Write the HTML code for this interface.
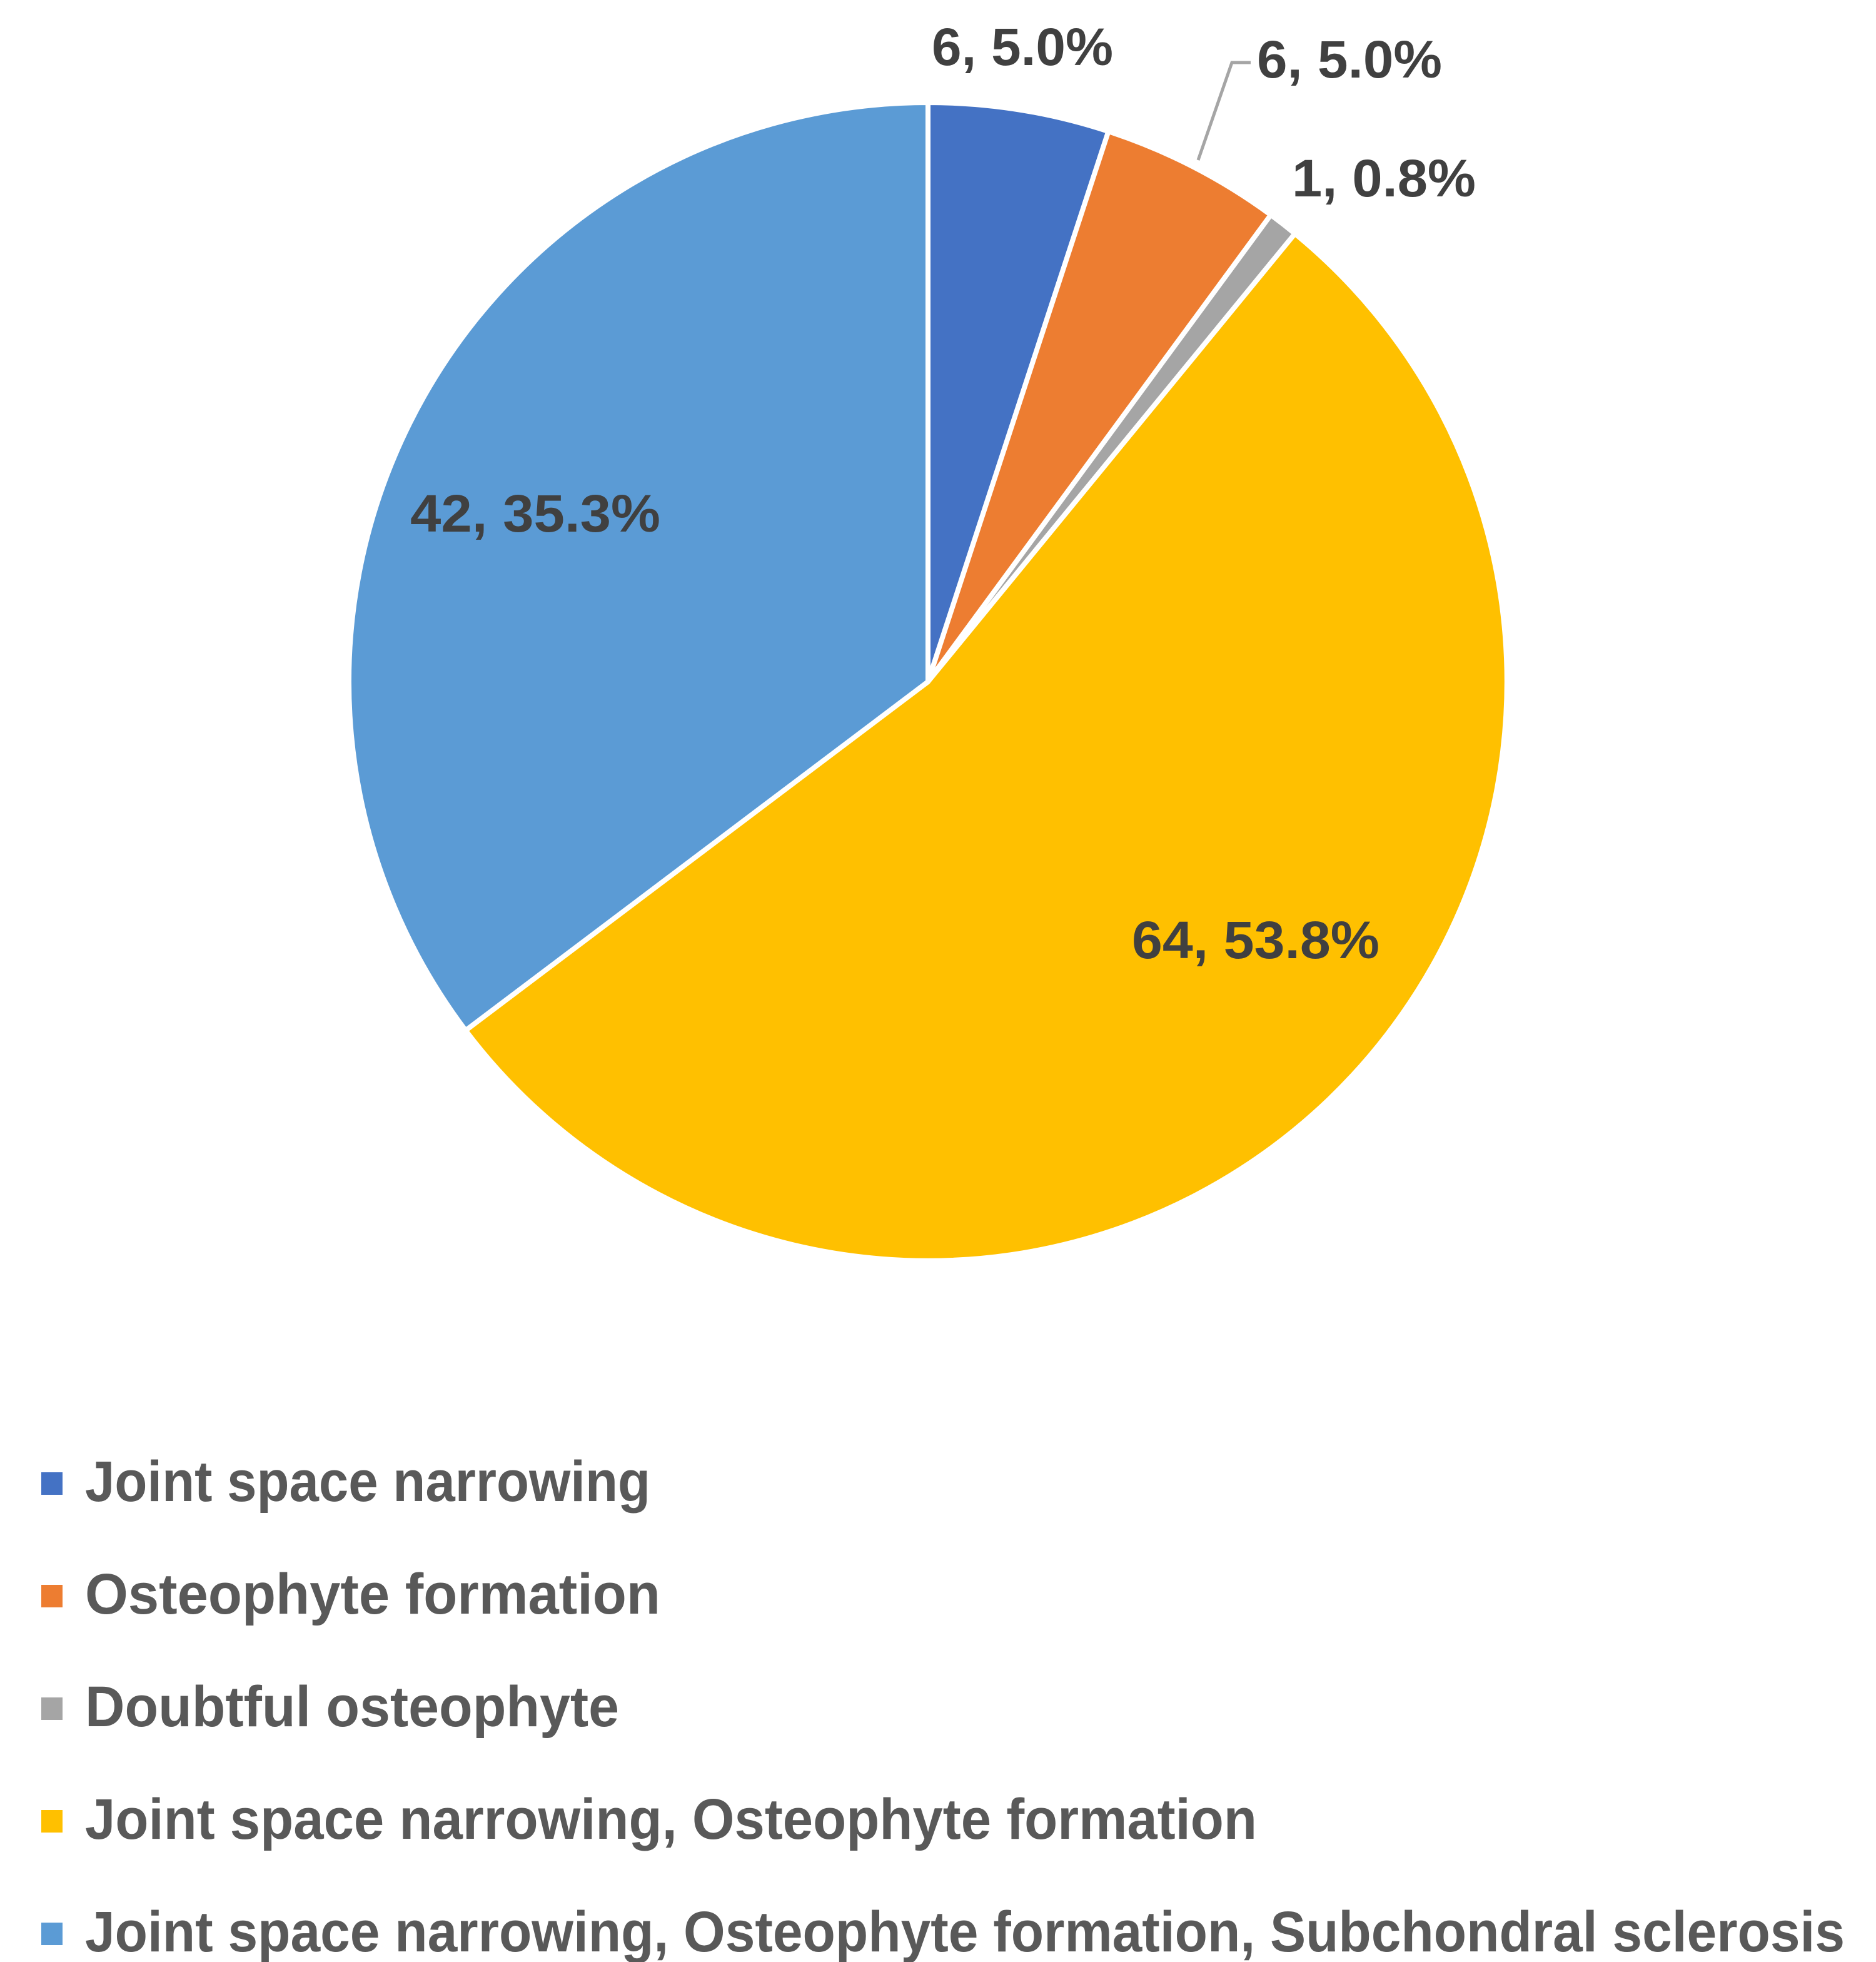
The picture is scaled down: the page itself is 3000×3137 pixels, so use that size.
<!DOCTYPE html>
<html><head><meta charset="utf-8"><style>
html,body{margin:0;padding:0;background:#fff;}
svg{display:block;}
.l{font-family:"Liberation Sans",sans-serif;font-weight:bold;font-size:84px;fill:#404040;}
.g{font-family:"Liberation Sans",sans-serif;font-weight:bold;font-size:92px;fill:#595959;}
</style></head><body>
<svg width="3000" height="3137" viewBox="0 0 3000 3137" xmlns="http://www.w3.org/2000/svg">
<g stroke="#fff" stroke-width="8" stroke-linejoin="round">
<path d="M1484,1090 L1484,164 A926,926 0 0 1 1772.5,210.1 Z" fill="#4472C4"/>
<path d="M1484,1090 L1772.5,210.1 A926,926 0 0 1 2032.2,343.6 Z" fill="#ED7D31"/>
<path d="M1484,1090 L2032.2,343.6 A926,926 0 0 1 2070.8,373.6 Z" fill="#A5A5A5"/>
<path d="M1484,1090 L2070.8,373.6 A926,926 0 1 1 744.6,1647.5 Z" fill="#FFC000"/>
<path d="M1484,1090 L744.6,1647.5 A926,926 0 0 1 1484,164 Z" fill="#5B9BD5"/>
</g>
<polyline points="2000,100 1970,100 1916,256" fill="none" stroke="#A5A5A5" stroke-width="5"/>
<text class="l" x="1490" y="104" textLength="290" lengthAdjust="spacingAndGlyphs">6, 5.0%</text>
<text class="l" x="2010" y="124" textLength="296" lengthAdjust="spacingAndGlyphs">6, 5.0%</text>
<text class="l" x="2066" y="314" textLength="294" lengthAdjust="spacingAndGlyphs">1, 0.8%</text>
<text class="l" x="656" y="850" textLength="400" lengthAdjust="spacingAndGlyphs">42, 35.3%</text>
<text class="l" x="1810" y="1532" textLength="396" lengthAdjust="spacingAndGlyphs">64, 53.8%</text>
<rect x="66" y="2354" width="34" height="36" fill="#4472C4"/>
<rect x="66" y="2534" width="34" height="36" fill="#ED7D31"/>
<rect x="66" y="2714" width="34" height="36" fill="#A5A5A5"/>
<rect x="66" y="2894" width="34" height="36" fill="#FFC000"/>
<rect x="66" y="3074" width="34" height="36" fill="#5B9BD5"/>
<text class="g" x="136" y="2400" textLength="904" lengthAdjust="spacingAndGlyphs">Joint space narrowing</text>
<text class="g" x="136" y="2580" textLength="920" lengthAdjust="spacingAndGlyphs">Osteophyte formation</text>
<text class="g" x="136" y="2760" textLength="854" lengthAdjust="spacingAndGlyphs">Doubtful osteophyte</text>
<text class="g" x="136" y="2940" textLength="1874" lengthAdjust="spacingAndGlyphs">Joint space narrowing, Osteophyte formation</text>
<text class="g" x="136" y="3120" textLength="2814" lengthAdjust="spacingAndGlyphs">Joint space narrowing, Osteophyte formation, Subchondral sclerosis</text>
</svg>
</body></html>
